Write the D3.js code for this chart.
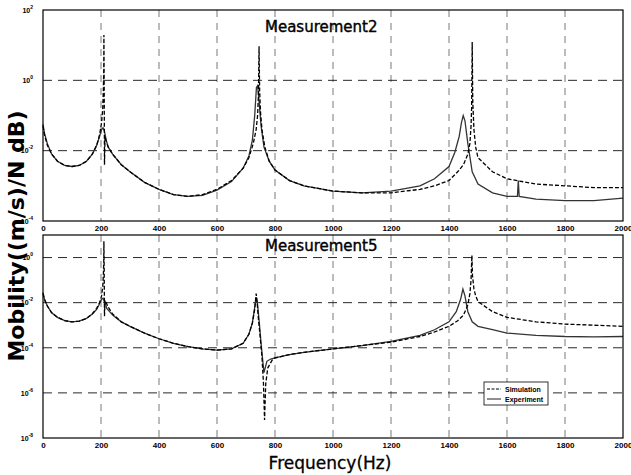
<!DOCTYPE html>
<html>
<head>
<meta charset="utf-8">
<script src="https://cdn.jsdelivr.net/npm/d3@7"></script>
<style>
  body { margin: 0; background: #fff; }
  svg { display: block; }
  .tick text { font-family: "Liberation Sans", Arial, sans-serif; font-weight: bold; }
</style>
</head>
<body>
<svg id="chart" width="631" height="475"></svg>
<script>
// values are log10 of mobility
const xTicks = [0, 200, 400, 600, 800, 1000, 1200, 1400, 1600, 1800, 2000];
const m2Exponents = [2, 0, -2, -4];
const m5Exponents = [0, -2, -4, -6, -8];
const legendLabels = ['Simulation', 'Experiment'];

const m2Simulation = [
  [0,-1.3],[5,-1.55],[15,-1.85],[30,-2.1],[50,-2.3],[75,-2.42],[100,-2.45],[125,-2.42],[150,-2.3],[170,-2.1],
  [185,-1.85],[195,-1.55],[202,-1.2],[206,-0.8],[208,-0.3],[209.5,0.3],[210,1.29],[211,-0.2],[212,-2.4],[214,-1.6],
  [218,-1.75],[225,-1.9],[240,-2.1],[270,-2.4],[300,-2.6],[350,-2.9],[400,-3.1],[450,-3.25],[500,-3.3],[550,-3.25],
  [600,-3.1],[650,-2.85],[690,-2.5],[710,-2.2],[725,-1.8],[735,-1.4],[740,-1.0],[743,-0.4],[745,0.97],[747,-0.3],
  [750,-0.9],[755,-1.4],[765,-1.9],[780,-2.3],[800,-2.55],[850,-2.85],[900,-3.0],[1000,-3.15],[1100,-3.2],[1200,-3.2],
  [1300,-3.1],[1350,-3.0],[1400,-2.85],[1430,-2.6],[1450,-2.4],[1465,-2.1],[1472,-1.8],[1476,-1.3],[1478,-0.8],[1479,0.0],
  [1480,1.09],[1482,-0.6],[1486,-1.4],[1492,-1.9],[1500,-2.2],[1550,-2.6],[1600,-2.8],[1700,-2.95],[1800,-3.0],[1900,-3.05],
  [2000,-3.05]
];
const m2Experiment = [
  [0,-1.25],[5,-1.5],[15,-1.8],[30,-2.1],[50,-2.3],[75,-2.42],[100,-2.45],[125,-2.42],[150,-2.3],[170,-2.1],
  [185,-1.85],[195,-1.6],[202,-1.4],[207,-1.35],[212,-1.45],[218,-1.7],[225,-1.9],[240,-2.1],[270,-2.4],[300,-2.6],
  [350,-2.9],[400,-3.1],[450,-3.25],[500,-3.3],[550,-3.27],[600,-3.12],[650,-2.88],[690,-2.5],[710,-2.15],[722,-1.7],
  [730,-1.0],[736,-0.2],[740,-0.15],[745,-0.6],[752,-1.3],[762,-1.9],[780,-2.3],[800,-2.55],[850,-2.85],[900,-3.0],
  [1000,-3.15],[1100,-3.2],[1200,-3.15],[1300,-3.0],[1350,-2.8],[1400,-2.45],[1420,-2.05],[1435,-1.6],[1443,-1.2],[1449,-1.0],
  [1455,-1.15],[1465,-1.8],[1480,-2.6],[1500,-2.95],[1550,-3.2],[1600,-3.3],[1636,-3.3],[1639,-2.85],[1642,-3.3],[1700,-3.38],
  [1800,-3.42],[1900,-3.42],[2000,-3.35]
];
const m5Simulation = [
  [0,-1.6],[5,-1.85],[15,-2.15],[30,-2.45],[50,-2.65],[75,-2.8],[100,-2.85],[125,-2.82],[150,-2.7],[170,-2.5],
  [185,-2.25],[195,-2.0],[202,-1.7],[206,-1.3],[208,-0.8],[209.5,-0.2],[210,0.72],[211,-0.5],[212,-2.6],[214,-1.9],
  [218,-2.0],[225,-2.2],[240,-2.5],[270,-2.85],[300,-3.05],[350,-3.35],[400,-3.6],[450,-3.8],[500,-3.95],[550,-4.05],
  [600,-4.1],[650,-4.05],[690,-3.8],[710,-3.4],[722,-2.9],[730,-2.3],[735,-1.6],[738,-1.9],[742,-2.6],[748,-3.4],
  [755,-4.4],[760,-5.5],[764,-7.2],[768,-5.6],[775,-4.9],[790,-4.55],[800,-4.45],[850,-4.3],[900,-4.2],[1000,-4.05],
  [1100,-3.9],[1200,-3.75],[1300,-3.5],[1350,-3.3],[1400,-3.05],[1430,-2.8],[1450,-2.55],[1465,-2.1],[1472,-1.6],[1476,-1.0],
  [1479,0.1],[1481,-0.8],[1486,-1.4],[1492,-1.7],[1500,-1.95],[1550,-2.4],[1600,-2.65],[1700,-2.85],[1800,-2.95],[1900,-3.0],
  [2000,-3.05]
];
const m5Experiment = [
  [0,-1.55],[5,-1.85],[15,-2.15],[30,-2.45],[50,-2.65],[75,-2.8],[100,-2.85],[125,-2.82],[150,-2.7],[170,-2.5],
  [185,-2.3],[195,-2.05],[202,-1.85],[207,-1.8],[212,-1.95],[220,-2.25],[240,-2.55],[270,-2.85],[300,-3.05],[350,-3.35],
  [400,-3.6],[450,-3.8],[500,-3.95],[550,-4.05],[600,-4.1],[650,-4.05],[690,-3.8],[710,-3.4],[722,-2.9],[730,-2.2],
  [735,-1.75],[740,-2.1],[746,-2.9],[752,-3.8],[758,-4.6],[762,-5.1],[766,-4.9],[772,-4.6],[785,-4.5],[800,-4.45],
  [850,-4.3],[900,-4.2],[1000,-4.05],[1100,-3.9],[1200,-3.72],[1300,-3.45],[1350,-3.2],[1400,-2.85],[1425,-2.4],[1440,-1.85],
  [1448,-1.4],[1455,-1.7],[1465,-2.4],[1480,-2.85],[1500,-3.05],[1550,-3.2],[1600,-3.35],[1700,-3.45],[1800,-3.5],[1900,-3.52],
  [2000,-3.5]
];

const svg = d3.select('#chart');
const left = 43, right = 623;

const x = d3.scaleLinear().domain([0, 2000]).range([left, right]);

const panels = [
  { title: 'Measurement2', top: 10, bottom: 221, domain: [1e-4, 1e2], exps: m2Exponents,
    sim: m2Simulation, exp: m2Experiment, titleY: 32 },
  { title: 'Measurement5', top: 235, bottom: 438, domain: [1e-8, 1e1], exps: m5Exponents,
    sim: m5Simulation, exp: m5Experiment, titleY: 251 }
];

panels.forEach(function (p) {
  const y = d3.scaleLog().domain(p.domain).range([p.bottom, p.top]);
  const g = svg.append('g');

  // grid
  g.selectAll('line.vgrid')
    .data(xTicks.filter(d => d > 0 && d < 2000))
    .join('line')
    .attr('x1', d => x(d)).attr('x2', d => x(d))
    .attr('y1', p.top).attr('y2', p.bottom)
    .attr('stroke', '#555')
    .attr('stroke-width', 0.8)
    .attr('stroke-dasharray', '7,6');
  g.selectAll('line.hgrid')
    .data(p.exps.map(e => Math.pow(10, e)).filter(v => y(v) > p.top + 1 && y(v) < p.bottom - 1))
    .join('line')
    .attr('x1', left).attr('x2', right)
    .attr('y1', d => y(d)).attr('y2', d => y(d))
    .attr('stroke', '#111')
    .attr('stroke-width', 0.9)
    .attr('stroke-dasharray', '9,6');

  // curves
  const line = d3.line()
    .x(d => x(d[0]))
    .y(d => y(Math.pow(10, d[1])));
  g.append('path')
    .attr('d', line(p.exp))
    .attr('fill', 'none')
    .attr('stroke', '#333')
    .attr('stroke-width', 1.3);
  g.append('path')
    .attr('d', line(p.sim))
    .attr('fill', 'none')
    .attr('stroke', '#000')
    .attr('stroke-width', 1.3)
    .attr('stroke-dasharray', '4,2');

  // frame
  g.append('rect')
    .attr('x', left).attr('y', p.top)
    .attr('width', right - left).attr('height', p.bottom - p.top)
    .attr('fill', 'none')
    .attr('stroke', '#000')
    .attr('stroke-width', 1.2);

  // x axis labels
  const xAxis = d3.axisBottom(x).tickValues(xTicks).tickSize(0).tickPadding(4).tickFormat(d3.format('d'));
  const xg = g.append('g')
    .attr('transform', `translate(0,${p.bottom})`)
    .call(xAxis);
  xg.select('.domain').remove();
  xg.selectAll('text').attr('font-size', 8).attr('fill', '#000');

  // y axis labels with superscripts
  const yAxis = d3.axisLeft(y).tickValues(p.exps.map(e => Math.pow(10, e))).tickSize(0).tickPadding(4).tickFormat('');
  const yg = g.append('g')
    .attr('transform', `translate(${left},0)`)
    .call(yAxis);
  yg.select('.domain').remove();
  yg.selectAll('.tick text')
    .attr('font-size', 7)
    .attr('fill', '#000')
    .attr('x', -10)
    .each(function (d) {
      const t = d3.select(this);
      t.append('tspan').text('10');
      t.append('tspan')
        .attr('dy', -4)
        .attr('font-size', 5)
        .text(Math.round(Math.log10(d)));
    });

  // title
  svg.append('text')
    .attr('x', 265)
    .attr('y', p.titleY)
    .attr('font-family', 'DejaVu Sans, sans-serif')
    .attr('font-size', 15)
    .attr('stroke', '#000')
    .attr('stroke-width', 0.4)
    .text(p.title);
});

// axis titles
svg.append('text')
  .attr('transform', 'translate(24,236) rotate(-90)')
  .attr('text-anchor', 'middle')
  .attr('font-family', 'DejaVu Sans, sans-serif')
  .attr('font-size', 22)
  .attr('font-weight', 'bold')
  .text('Mobility((m/s)/N dB)');

svg.append('text')
  .attr('x', 330)
  .attr('y', 469)
  .attr('text-anchor', 'middle')
  .attr('font-family', 'DejaVu Sans, sans-serif')
  .attr('font-size', 17)
  .attr('stroke', '#000')
  .attr('stroke-width', 0.3)
  .text('Frequency(Hz)');

// legend
const legend = svg.append('g').attr('transform', 'translate(484,382)');
legend.append('rect')
  .attr('width', 64).attr('height', 23)
  .attr('fill', '#fff')
  .attr('stroke', '#000')
  .attr('stroke-width', 0.8);
legend.selectAll('line')
  .data(legendLabels)
  .join('line')
  .attr('x1', 3).attr('x2', 17)
  .attr('y1', (d, i) => 7 + i * 10).attr('y2', (d, i) => 7 + i * 10)
  .attr('stroke', (d, i) => i === 0 ? '#000' : '#333')
  .attr('stroke-width', 1.1)
  .attr('stroke-dasharray', (d, i) => i === 0 ? '3,1.5' : null);
legend.selectAll('text')
  .data(legendLabels)
  .join('text')
  .attr('x', 21)
  .attr('y', (d, i) => 9.5 + i * 10)
  .attr('font-family', 'Liberation Sans, Arial, sans-serif')
  .attr('font-size', 7)
  .attr('font-weight', 'bold')
  .text(d => d);
</script>
</body>
</html>
